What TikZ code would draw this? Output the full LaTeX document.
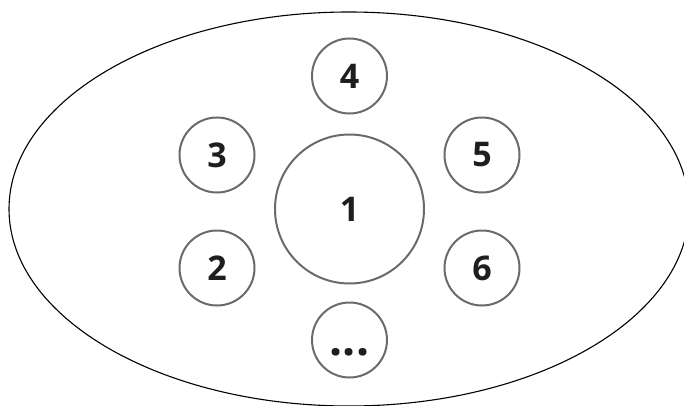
\documentclass[tikz,border=0pt]{standalone}
\usepackage{fontspec}
\setmainfont{Open Sans}
\usepackage{tikz}
\definecolor{RingGray}{HTML}{6A6A6B}
\definecolor{DigitBlack}{HTML}{1E1E1E}

\begin{document}
\begin{tikzpicture}[x=1pt,y=-1pt,
  slot/.style={circle,draw=RingGray,line width=2pt,inner sep=0pt,minimum size=75pt,text=DigitBlack,font=\fontsize{34}{34}\selectfont\bfseries},
  hub/.style={slot,minimum size=149pt}]
\useasboundingbox (0,0) rectangle (684,406);
\clip (0,0) rectangle (684,406);
\draw[line width=1.1pt] (349,209) ellipse [x radius=340,y radius=197];
\node[hub] (n1) at (349.5,209) {1};
\node[slot] (n4) at (349.5,76) {4};
\node[slot] (n3) at (217,155) {3};
\node[slot] (n5) at (482,155) {5};
\node[slot] (n2) at (217,268) {2};
\node[slot] (n6) at (482,268) {6};
\node[slot,font=\fontsize{46}{46}\selectfont\bfseries] (more) at (349.5,340) {\raisebox{-15.5pt}[0pt][0pt]{...}};
\end{tikzpicture}
\end{document}
